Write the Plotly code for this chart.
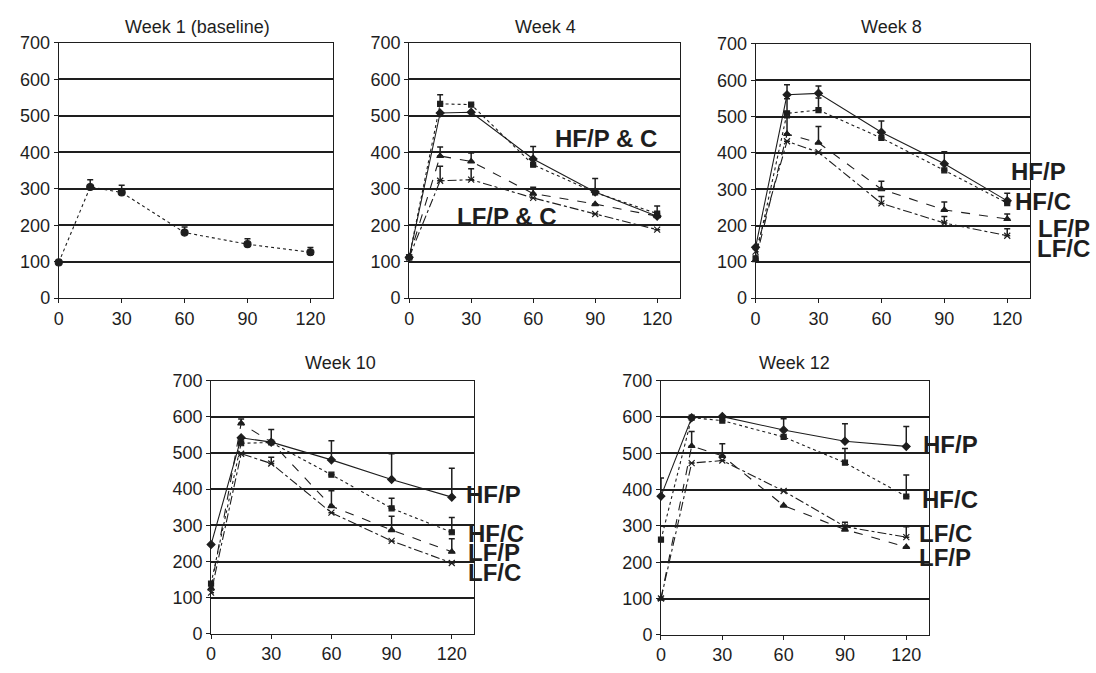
import plotly.graph_objects as go

# ---------------- data ----------------
times = [0, 15, 30, 60, 90, 120]
x_tick_vals = [0, 30, 60, 90, 120]
y_tick_vals = [0, 100, 200, 300, 400, 500, 600, 700]

panel_titles = ["Week 1 (baseline)", "Week 4", "Week 8", "Week 10", "Week 12"]
series_names = ["HF/P", "HF/C", "LF/P", "LF/C"]

# Week 1 (baseline) - single pooled series
w1_vals = [98, 305, 290, 180, 148, 126]
w1_err = [0, 20, 20, 15, 15, 13]

# Week 4
w4_hfp = [112, 508, 510, 382, 291, 225]
w4_hfc = [112, 533, 531, 366, 290, 232]
w4_lfp = [112, 390, 375, 287, 258, 225]
w4_lfc = [112, 322, 325, 275, 231, 188]
w4_hfp_err = [0, 0, 0, 34, 37, 0]
w4_hfc_err = [0, 25, 0, 0, 0, 21]
w4_lfp_err = [0, 25, 23, 17, 0, 0]
w4_lfc_err = [0, 40, 30, 0, 0, 0]

# Week 8
w8_hfp = [140, 560, 564, 457, 370, 268]
w8_hfc = [110, 509, 518, 441, 352, 262]
w8_lfp = [105, 452, 428, 300, 243, 218]
w8_lfc = [128, 432, 402, 261, 207, 172]
w8_hfp_err = [0, 28, 20, 31, 33, 21]
w8_hfc_err = [0, 40, 33, 0, 0, 0]
w8_lfp_err = [0, 45, 45, 22, 22, 14]
w8_lfc_err = [0, 0, 0, 19, 18, 19]

# Week 10
w10_hfp = [247, 542, 530, 481, 427, 378]
w10_hfc = [139, 527, 529, 440, 347, 281]
w10_lfp = [126, 582, 530, 353, 287, 227]
w10_lfc = [114, 498, 471, 335, 257, 196]
w10_hfp_err = [0, 0, 0, 53, 71, 80]
w10_hfc_err = [0, 0, 36, 0, 28, 41]
w10_lfp_err = [0, 12, 0, 43, 38, 36]
w10_lfc_err = [0, 0, 17, 0, 0, 0]

# Week 12
w12_hfp = [382, 598, 601, 564, 533, 519]
w12_hfc = [262, 598, 590, 545, 474, 381]
w12_lfp = [100, 520, 493, 356, 290, 242]
w12_lfc = [100, 473, 480, 396, 298, 269]
w12_hfp_err = [50, 0, 0, 31, 48, 55]
w12_hfc_err = [0, 0, 0, 0, 39, 59]
w12_lfp_err = [0, 40, 33, 0, 0, 0]
w12_lfc_err = [0, 0, 0, 0, 12, 29]

# in-plot group labels: (panel, text, x, y) in the panel's data units
group_labels = [
    (2, "HF/P & C", 70.3, 439),
    (2, "LF/P & C", 22.5, 225),
    (3, "HF/P", 121.4, 350),
    (3, "HF/C", 123.0, 267),
    (3, "LF/P", 134.0, 193),
    (3, "LF/C", 133.5, 136),
    (4, "HF/P", 126.4, 386),
    (4, "HF/C", 127.4, 277),
    (4, "LF/P", 127.4, 226),
    (4, "LF/C", 127.4, 170),
    (5, "HF/P", 127.8, 524),
    (5, "HF/C", 127.3, 374),
    (5, "LF/C", 125.8, 280),
    (5, "LF/P", 125.8, 214),
]

# ---------------- styling ----------------
INK = "#1e1e1e"
FONT = "Liberation Sans, Arial, sans-serif"
W, H = 1096, 673
X_MAX, Y_MAX = 131, 700

styles = {
    "HF/P": dict(dash="solid", symbol="diamond", size=6),
    "HF/C": dict(dash="dot", symbol="square", size=5),
    "LF/P": dict(dash="dash", symbol="triangle-up", size=6),
    "LF/C": dict(dash="dashdot", symbol="x-thin-open", size=6),
}

# plot-area boxes in pixels (left, right, top, bottom)
boxes = [
    (54, 330, 34, 297),
    (406, 678, 34, 297),
    (754, 1030, 35, 297),
    (207, 471, 382, 643),
    (659, 928, 382, 644),
]
title_pos = [(193, 18), (543, 18), (891, 18), (337, 364), (793, 364)]

fig = go.Figure()


def add_series(panel, name, y, err, dash, symbol, size):
    sfx = "" if panel == 1 else str(panel)
    fig.add_trace(go.Scatter(
        x=times, y=y, mode="lines+markers", name=name, showlegend=False,
        xaxis="x" + sfx, yaxis="y" + sfx, cliponaxis=False,
        line=dict(color=INK, width=1.1, dash=dash),
        marker=dict(symbol=symbol, size=size, color=INK,
                    line=dict(color=INK, width=1.2)),
        error_y=dict(type="data", symmetric=False, array=err,
                     arrayminus=[0] * len(err), color=INK,
                     thickness=1.5, width=3),
    ))


add_series(1, "Baseline", w1_vals, w1_err, "dot", "circle", 7)

panel_data = {
    2: [w4_hfp, w4_hfc, w4_lfp, w4_lfc],
    3: [w8_hfp, w8_hfc, w8_lfp, w8_lfc],
    4: [w10_hfp, w10_hfc, w10_lfp, w10_lfc],
    5: [w12_hfp, w12_hfc, w12_lfp, w12_lfc],
}
panel_err = {
    2: [w4_hfp_err, w4_hfc_err, w4_lfp_err, w4_lfc_err],
    3: [w8_hfp_err, w8_hfc_err, w8_lfp_err, w8_lfc_err],
    4: [w10_hfp_err, w10_hfc_err, w10_lfp_err, w10_lfc_err],
    5: [w12_hfp_err, w12_hfc_err, w12_lfp_err, w12_lfc_err],
}
for p in (2, 3, 4, 5):
    for name, ys, es in zip(series_names, panel_data[p], panel_err[p]):
        st = styles[name]
        add_series(p, name, ys, es, st["dash"], st["symbol"], st["size"])

layout = dict(
    width=W, height=H,
    margin=dict(l=0, r=0, t=0, b=0),
    paper_bgcolor="white", plot_bgcolor="white",
    font=dict(family=FONT, size=18, color=INK),
    showlegend=False,
)

annotations = []
for i, (l, r, t, b) in enumerate(boxes):
    p = i + 1
    sfx = "" if p == 1 else str(p)
    layout["xaxis" + sfx] = dict(
        domain=[l / W, r / W], anchor="y" + sfx, range=[0, X_MAX],
        tickvals=x_tick_vals, ticks="outside", ticklen=4, tickcolor=INK,
        showgrid=False, zeroline=False, showline=True, linecolor=INK,
        linewidth=1, mirror=True, tickfont=dict(size=18, color=INK),
    )
    layout["yaxis" + sfx] = dict(
        domain=[1 - b / H, 1 - t / H], anchor="x" + sfx, range=[0, Y_MAX],
        tickvals=y_tick_vals, ticks="outside", ticklen=4, tickcolor=INK,
        showgrid=True, gridcolor=INK, gridwidth=1.5, zeroline=False,
        showline=True, linecolor=INK, linewidth=1, mirror=True,
        tickfont=dict(size=18, color=INK),
    )
    tx, ty = title_pos[i]
    annotations.append(dict(
        text=panel_titles[i], x=tx / W, y=1 - ty / H, xref="paper",
        yref="paper", showarrow=False, xanchor="center", yanchor="middle",
        font=dict(size=18, color=INK, family=FONT),
    ))

# group labels: map panel data units to paper coordinates so that labels
# lying just beyond the axis range are still drawn
for p, txt, lx, ly in group_labels:
    l, r, t, b = boxes[p - 1]
    px = l + (lx / X_MAX) * (r - l)
    py = b - (ly / Y_MAX) * (b - t)
    annotations.append(dict(
        text="<b>" + txt + "</b>", x=px / W, y=1 - py / H, xref="paper",
        yref="paper", showarrow=False, xanchor="left", yanchor="middle",
        borderpad=0, font=dict(size=24, color=INK, family=FONT),
    ))

layout["annotations"] = annotations
fig.update_layout(**layout)
fig.write_html("out.html")
